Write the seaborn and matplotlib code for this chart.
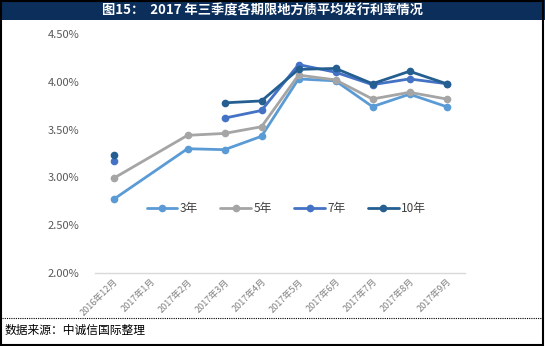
import numpy as np
import pandas as pd
import matplotlib
matplotlib.use("Agg")
import matplotlib.pyplot as plt
import seaborn as sns
from matplotlib.patches import Rectangle
from matplotlib.lines import Line2D

sns.set_theme(style="white")
plt.rcParams['font.family'] = ['Noto Sans CJK SC', 'DejaVu Sans']

months = ["2016年12月", "2017年1月", "2017年2月", "2017年3月", "2017年4月",
          "2017年5月", "2017年6月", "2017年7月", "2017年8月", "2017年9月"]
nan = np.nan
y3 = [2.77, nan, 3.30, 3.29, 3.43, 4.03, 4.01, 3.74, 3.87, 3.74]
y5 = [2.99, nan, 3.44, 3.46, 3.53, 4.07, 4.02, 3.82, 3.89, 3.82]
y7 = [3.17, nan, nan, 3.62, 3.70, 4.18, 4.10, 3.97, 4.03, 3.98]
y10 = [3.23, nan, nan, 3.78, 3.80, 4.13, 4.14, 3.98, 4.11, 3.98]
series_names = ["3年", "5年", "7年", "10年"]
colors = ["#5B9BD5", "#A5A5A5", "#4472C4", "#255E91"]
connect_gaps = [True, True, False, False]

fig = plt.figure(figsize=(5.45, 3.46), dpi=100)
ax = fig.add_axes([95/545, 1-273/346, 370/545, (273-34)/346])

for name, vals, col, conn in zip(series_names, [y3, y5, y7, y10], colors, connect_gaps):
    df = pd.DataFrame({"x": np.arange(len(months)), "y": vals})
    if conn:
        df["seg"] = 0
    else:
        df["seg"] = df["y"].isna().cumsum()
    df = df.dropna()
    sns.lineplot(data=df, x="x", y="y", units="seg", estimator=None, ax=ax,
                 color=col, linewidth=2, marker="o", markersize=5.5,
                 markeredgewidth=0, legend=False, sort=False)

ax.set_xlim(-0.5, len(months) - 0.5)
ax.set_ylim(2.0, 4.5)
ax.set_yticks([2.0, 2.5, 3.0, 3.5, 4.0, 4.5])
ax.set_yticklabels([f"{v:.2f}%" for v in [2.0, 2.5, 3.0, 3.5, 4.0, 4.5]],
                   fontsize=8, color="#595959")
ax.set_xticks(np.arange(len(months)))
ax.set_xticklabels(months, rotation=45, ha="right", rotation_mode="anchor",
                   fontsize=6.5, color="#808080")
ax.tick_params(axis="both", length=0, pad=3)
ax.tick_params(axis="y", pad=11)
ax.set_xlabel("")
ax.set_ylabel("")
for s in ["top", "right", "left"]:
    ax.spines[s].set_visible(False)
ax.spines["bottom"].set_color("#D9D9D9")
ax.spines["bottom"].set_linewidth(1)

handles = [Line2D([0], [0], color=c, lw=2, marker="o", markersize=5.5, markeredgewidth=0)
           for c in colors]
ax.legend(handles, series_names, loc="center", bbox_to_anchor=(0.517, 0.27),
          ncol=4, frameon=False, fontsize=8.5, handlelength=2.6,
          columnspacing=1.9, handletextpad=0.2, labelcolor="#404040")

# title bar
fig.patches.append(Rectangle((0, 1-20/346), 1, 20/346, transform=fig.transFigure,
                             facecolor="#0B2E5B", edgecolor="none", zorder=0))
fig.text(262/545, 1-10/346, "图15：  2017 年三季度各期限地方债平均发行利率情况",
         ha="center", va="center", color="white", fontsize=9.5, fontweight="bold")

# outer border
fig.patches.append(Rectangle((0.001, 0.002), 0.996, 0.996, transform=fig.transFigure,
                             facecolor="none", edgecolor="black", linewidth=1.5, zorder=5))
# footer
fig.add_artist(Line2D([0.003, 0.997], [1-318/346, 1-318/346], transform=fig.transFigure,
                      color="black", linewidth=0.8, linestyle=(0, (1, 1))))
fig.text(5/545, 1-330/346, "数据来源：中诚信国际整理", ha="left", va="center",
         fontsize=8.5, style="italic", color="black")

fig.savefig("out.png", dpi=100)
